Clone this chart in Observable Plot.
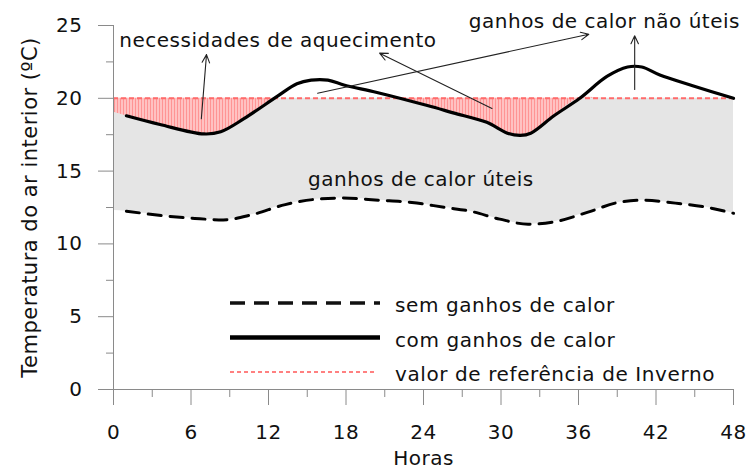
<!DOCTYPE html>
<html>
<head>
<meta charset="utf-8">
<script src="https://cdn.jsdelivr.net/npm/d3@7"></script>
<script src="https://cdn.jsdelivr.net/npm/@observablehq/plot@0.6"></script>
<style>
  html, body { margin: 0; padding: 0; background: #fff; }
  #wrap { position: relative; width: 746px; height: 470px; }
  #wrap svg.legend { position: absolute; left: 0; top: 0; pointer-events: none; }
</style>
</head>
<body>
<div id="wrap"></div>
<script>
// ---- data ----
const hoursWithGains = [1, 3.6, 7, 8.3, 10.1, 12.7, 14.2, 15.3, 16.6, 17.9, 20.4, 24.3, 26.3, 28.9, 30.5, 31.5, 32.3, 34.1, 36.1, 38.2, 39.8, 40.9, 42.3, 44.9, 48];
const tempWithGains = [18.8, 18.2, 17.55, 17.7, 18.6, 20.15, 21.0, 21.25, 21.25, 20.9, 20.4, 19.5, 19.0, 18.35, 17.6, 17.45, 17.6, 18.8, 20.0, 21.5, 22.15, 22.15, 21.6, 20.85, 20.0];
const hoursNoGains = [1, 3.7, 6.3, 8.5, 10.7, 13.3, 15.5, 17.7, 20.6, 23.1, 25.7, 27.6, 29.9, 32.1, 34.3, 36.8, 39.1, 41.0, 43.5, 45.7, 48];
const tempNoGains = [12.25, 11.95, 11.75, 11.65, 12.0, 12.7, 13.05, 13.15, 13.0, 12.85, 12.5, 12.25, 11.7, 11.35, 11.55, 12.2, 12.85, 13.0, 12.8, 12.55, 12.1];
// filled areas begin at hour 0 (edge values read from the fills)
const fillStartHour = 0;
const fillStartWithGains = 19.05;
const fillStartNoGains = 12.3;
const winterReference = 20;

const xTicks = [0, 6, 12, 18, 24, 30, 36, 42, 48];
const xMinorTicks = [3, 9, 15, 21, 27, 33, 39, 45];
const yTicks = [0, 5, 10, 15, 20, 25];
const yMinorTicks = [2.5, 7.5, 12.5, 17.5, 22.5];

const annotationTexts = ["necessidades de aquecimento", "ganhos de calor não úteis", "ganhos de calor úteis"];
const annotationX = [0.45, 48.5, 23.8];
const annotationY = [23.95, 25.3, 14.43];
const annotationAnchor = ["start", "end", "middle"];

const arrowFromX = [6.8, 29.3, 15.8, 40.35];
const arrowFromY = [18.6, 19.3, 20.35, 20.6];
const arrowToX = [7.2, 20.6, 36.8, 40.35];
const arrowToY = [23.0, 23.1, 24.4, 24.3];

const legendLabels = ["sem ganhos de calor", "com ganhos de calor", "valor de referência de Inverno"];

// ---- build tables ----
const withGains = hoursWithGains.map((h, i) => ({h, t: tempWithGains[i]}));
const noGains = hoursNoGains.map((h, i) => ({h, t: tempNoGains[i]}));
const grayFill = [{h: fillStartHour, t: fillStartNoGains}, ...noGains];
const redBase = [{h: fillStartHour, t: fillStartWithGains}, ...withGains];
// add crossing points with the reference line so the clipped fill meets it cleanly
const redFill = [];
for (let i = 0; i < redBase.length; i++) {
  const a = redBase[i];
  if (i > 0) {
    const p = redBase[i - 1];
    if ((p.t - winterReference) * (a.t - winterReference) < 0) {
      const f = (winterReference - p.t) / (a.t - p.t);
      redFill.push({h: p.h + f * (a.h - p.h), t: winterReference});
    }
  }
  redFill.push(a);
}
const annotations = annotationTexts.map((text, i) => ({text, x: annotationX[i], y: annotationY[i], anchor: annotationAnchor[i]}));
const arrows = arrowFromX.map((x1, i) => ({x1, y1: arrowFromY[i], x2: arrowToX[i], y2: arrowToY[i]}));

const axisColor = "#8a8a8a";
const font = "DejaVu Sans, sans-serif";
const textMarks = ["start", "end", "middle"].map(anchor =>
  Plot.text(annotations.filter(d => d.anchor === anchor), {x: "x", y: "y", text: "text", textAnchor: anchor, fontSize: 20, fill: "#111"}));

const chart = Plot.plot({
  width: 746,
  height: 470,
  marginLeft: 113,
  marginRight: 13,
  marginTop: 25,
  marginBottom: 81,
  x: {domain: [0, 48]},
  y: {domain: [0, 25]},
  style: {fontFamily: font, fontSize: "20px", color: "#111", background: "#fff", overflow: "visible", letterSpacing: "0.5px"},
  marks: [
    Plot.areaY(grayFill, {x: "h", y1: "t", y2: () => winterReference, fill: "#e5e5e5", curve: "monotone-x"}),
    Plot.areaY(redFill, {x: "h", y1: d => Math.min(d.t, winterReference), y2: () => winterReference, fill: "url(#hatch)", curve: "catmull-rom"}),
    Plot.ruleY([winterReference], {stroke: "#ff6b6b", strokeWidth: 2, strokeDasharray: "5,3"}),
    Plot.line(noGains, {x: "h", y: "t", stroke: "#000", strokeWidth: 3, strokeDasharray: "13,9", curve: "monotone-x"}),
    Plot.line(withGains, {x: "h", y: "t", stroke: "#000", strokeWidth: 3.2, curve: "catmull-rom"}),
    Plot.arrow(arrows, {x1: "x1", y1: "y1", x2: "x2", y2: "y2", stroke: "#222", strokeWidth: 1.1, headLength: 12, headAngle: 50}),
    ...textMarks,
    Plot.ruleX([0], {stroke: axisColor, insetBottom: -16}),
    Plot.ruleY([0], {stroke: axisColor, insetLeft: -15}),
    Plot.axisY({ticks: yTicks, tickSize: 15, tickPadding: 16, stroke: axisColor, fontSize: 20,
      label: "Temperatura do ar interior (ºC)", labelAnchor: "center", labelOffset: 91, labelArrow: "none"}),
    Plot.axisY({ticks: yMinorTicks, tickSize: 7, text: null, label: null, stroke: axisColor}),
    Plot.axisX({ticks: xTicks, tickSize: 16, tickPadding: 19, stroke: axisColor, fontSize: 20,
      label: "Horas", labelAnchor: "center", labelOffset: 75, labelArrow: "none"}),
    Plot.axisX({ticks: xMinorTicks, tickSize: 8, text: null, label: null, stroke: axisColor})
  ]
});
// y-axis label slightly larger, like the reference
d3.select(chart).selectAll("g[aria-label='y-axis label'] text").style("font-size", "21px");

// hatch pattern for the heating-need fill
const defs = d3.select(chart).insert("defs", ":first-child");
const pat = defs.append("pattern").attr("id", "hatch").attr("patternUnits", "userSpaceOnUse").attr("width", 3).attr("height", 4);
pat.append("rect").attr("width", 3).attr("height", 4).attr("fill", "#ffc2c2");
pat.append("rect").attr("width", 1).attr("height", 4).attr("fill", "#ff9494");

const wrap = document.getElementById("wrap");
wrap.appendChild(chart);

// legend overlay (inside the plot area, as in the reference)
const legendStyles = [
  {stroke: "#111", width: 3.5, dash: "15,9", len: 150},
  {stroke: "#000", width: 4.5, dash: null, len: 150},
  {stroke: "#ff8080", width: 2, dash: "4,3", len: 146}
];
const legendLeft = 230, legendTop = 303, legendStep = 34.5, legendTextGap = 165;
const lg = d3.select(wrap).append("svg").attr("class", "legend").attr("width", 746).attr("height", 470)
  .style("font-family", font).style("font-size", "20px").style("letter-spacing", "0.6px");
legendLabels.forEach((label, i) => {
  const s = legendStyles[i];
  const y = legendTop + i * legendStep;
  lg.append("line").attr("x1", legendLeft).attr("x2", legendLeft + s.len).attr("y1", y).attr("y2", y)
    .attr("stroke", s.stroke).attr("stroke-width", s.width).attr("stroke-dasharray", s.dash);
  lg.append("text").attr("x", legendLeft + legendTextGap).attr("y", y + 9).attr("fill", "#111").text(label);
});
</script>
</body>
</html>
